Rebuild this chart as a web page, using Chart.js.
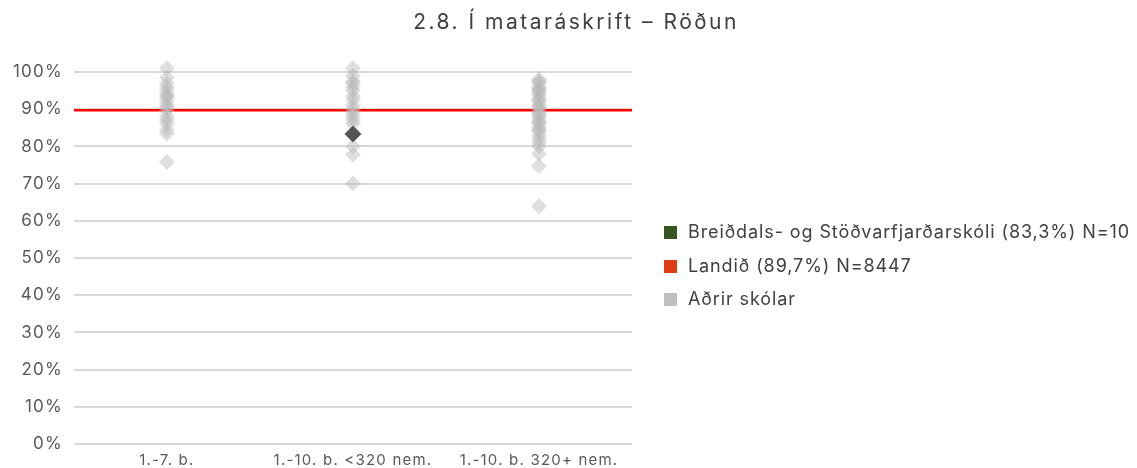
<!DOCTYPE html>
<html>
<head>
<meta charset="utf-8">
<script src="https://cdn.jsdelivr.net/npm/chart.js@4.4.0/dist/chart.umd.min.js"></script>
<style>
  html, body { margin: 0; padding: 0; background: #fff; }
  #wrap { width: 1137px; height: 468px; position: relative; }
  #title { position: absolute; left: 0; width: 1152px; top: 8px; text-align: center; font-family: Inter, sans-serif; font-size: 21px; letter-spacing: 2.5px; color: #404040; line-height: 28px; }
  #legend { position: absolute; left: 664px; top: 221px; font-family: Inter, sans-serif; font-size: 18px; letter-spacing: 0.9px; color: #404040; }
  #legend div { height: 33.5px; line-height: 22px; white-space: nowrap; }
  #legend span.box { display: inline-block; width: 13px; height: 13px; margin-right: 11px; vertical-align: -1px; }
</style>
</head>
<body>
<div id="wrap"><canvas id="chart"></canvas><div id="title"></div><div id="legend"></div></div>
<script>
// Data
const categories = ['1.-7. b.', '1.-10. b. <320 nem.', '1.-10. b. 320+ nem.'];
const others17 = [101, 98.5, 97, 96, 95, 94, 93.5, 93, 92, 91, 90.5, 89.5, 88, 87, 86, 84.5, 83.5, 75.8];
const othersSmall = [101, 99, 97.5, 97, 96, 95, 93.5, 92.5, 91, 90, 89, 88, 87, 86, 80, 77.8, 70];
const othersLarge = [98, 97.5, 97, 96, 95.5, 95, 94.5, 94, 93, 92.5, 92, 91, 90.5, 90, 89, 88.5, 88, 87, 86.5, 86, 85, 84.5, 84, 83, 82, 81, 80, 78, 74.7, 63.9];
const schoolCategory = 1;
const schoolValue = 83.3;
const nationalValue = 89.7;
const chartTitle = '2.8. Í mataráskrift – Röðun';
const legendLabels = ['Breiðdals- og Stöðvarfjarðarskóli (83,3%) N=10', 'Landið (89,7%) N=8447', 'Aðrir skólar'];
const legendColors = ['#375623', '#e03c14', '#bfbfbf'];
const yTicks = [0, 10, 20, 30, 40, 50, 60, 70, 80, 90, 100];

const FONT = 'Inter, "Open Sans", sans-serif';

// build scatter points
const otherPoints = [];
[others17, othersSmall, othersLarge].forEach((arr, i) => {
  arr.forEach(v => otherPoints.push({ x: i, y: v }));
});

// title + legend (html)
document.getElementById('title').textContent = chartTitle;
document.getElementById('legend').innerHTML = legendLabels.map((t, i) =>
  `<div><span class="box" style="background:${legendColors[i]}"></span>${t}</div>`).join('');

// wider tick text, the reference font runs wide
const spacing = {
  id: 'spacing',
  beforeUpdate: (chart) => { chart.ctx.letterSpacing = '1.2px'; },
  beforeDraw: (chart) => { chart.ctx.letterSpacing = '1.2px'; }
};

const ctx = document.getElementById('chart').getContext('2d');
new Chart(ctx, {
  type: 'scatter',
  plugins: [spacing],
  data: {
    datasets: [
      {
        label: legendLabels[0],
        data: [{ x: schoolCategory, y: schoolValue }],
        pointStyle: 'rectRot',
        pointRadius: 8.5,
        backgroundColor: '#555555',
        borderWidth: 0,
        clip: false
      },
      {
        label: legendLabels[2],
        data: otherPoints,
        pointStyle: 'rectRot',
        pointRadius: 8,
        backgroundColor: 'rgba(185,185,185,0.45)',
        borderWidth: 0,
        clip: false
      },
      {
        label: legendLabels[1],
        type: 'line',
        data: [{ x: -0.5, y: nationalValue }, { x: 2.5, y: nationalValue }],
        borderColor: '#ff0000',
        borderWidth: 2.5,
        pointRadius: 0
      }
    ]
  },
  options: {
    responsive: true,
    maintainAspectRatio: false,
    animation: false,
    layout: { padding: { left: 2, right: 505, top: 72, bottom: 0 } },
    plugins: {
      title: { display: false },
      legend: { display: false },
      tooltip: { enabled: false }
    },
    scales: {
      x: {
        type: 'linear',
        min: -0.5,
        max: 2.5,
        afterBuildTicks: (scale) => { scale.ticks = categories.map((c, i) => ({ value: i })); },
        ticks: {
          color: '#595959',
          font: { family: FONT, size: 15 },
          padding: -1,
          maxRotation: 0,
          callback: (v) => categories[v]
        },
        grid: { display: false },
        border: { display: false }
      },
      y: {
        min: 0,
        max: 100,
        afterBuildTicks: (scale) => { scale.ticks = yTicks.map(v => ({ value: v })); },
        ticks: {
          color: '#595959',
          font: { family: FONT, size: 17 },
          padding: 11,
          callback: (v) => v + '%'
        },
        grid: { color: '#d9d9d9', lineWidth: 2, drawTicks: false },
        border: { display: false }
      }
    }
  }
});
</script>
</body>
</html>
